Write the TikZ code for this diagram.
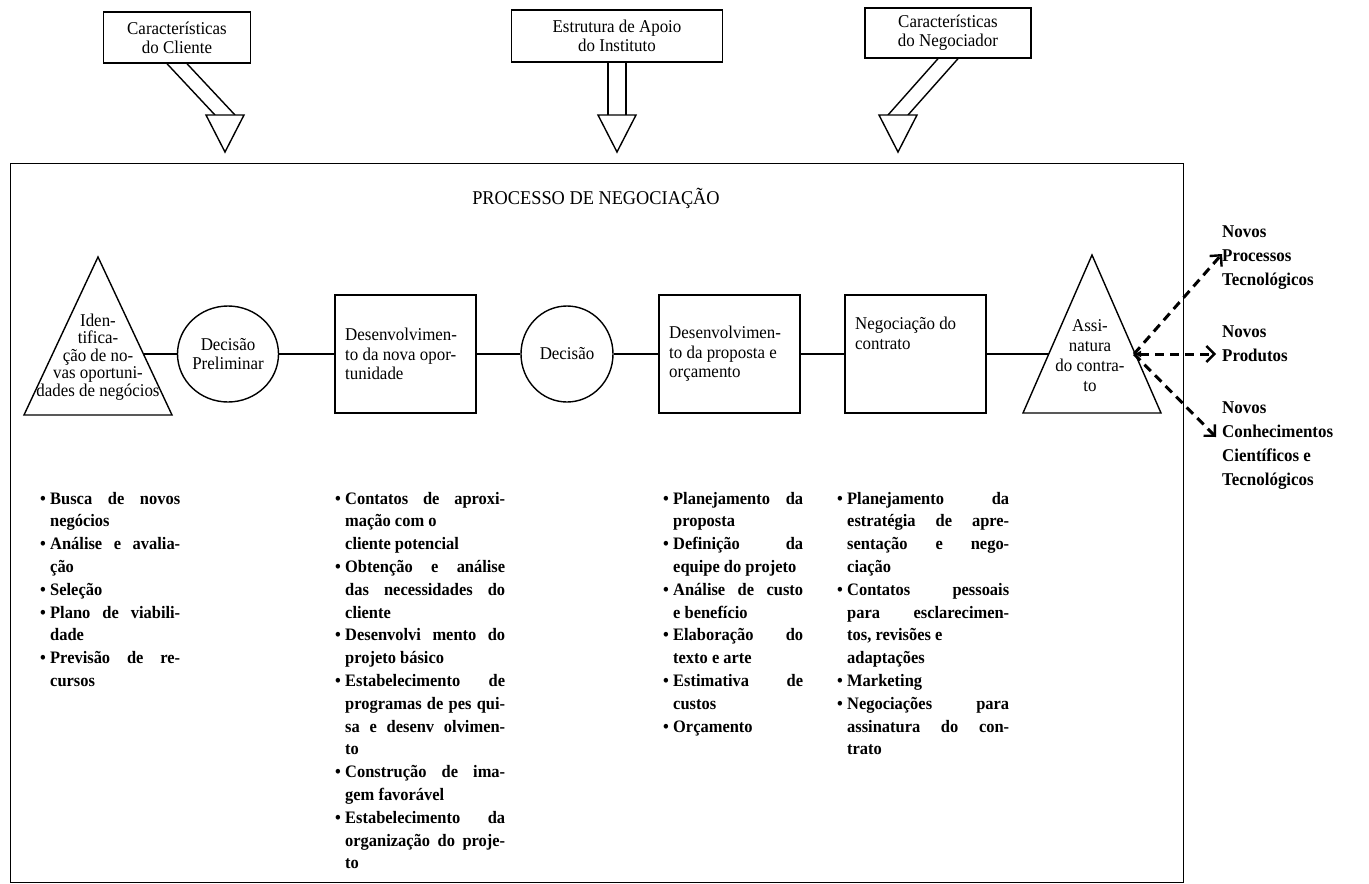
\documentclass[tikz,border=0pt]{standalone}
\usepackage{fontspec}
\setmainfont{Liberation Serif}[FakeStretch=0.94]
\usetikzlibrary{arrows.meta,calc,shapes.geometric}
\newcommand{\lbul}{\makebox[10pt][l]{\textbullet}}
\newcommand{\lind}{\hspace*{10pt}}
\newcommand{\jw}[2]{\makebox[#1][s]{#2}}
\newcommand{\jA}{\jw{140pt}}
\newcommand{\jB}{\jw{170pt}}
\newcommand{\jC}{\jw{140pt}}
\newcommand{\jD}{\jw{172pt}}
\begin{document}
\begin{tikzpicture}[x=1pt,y=-1pt,
  every node/.style={inner sep=0pt},
  lw/.style={line width=1.4pt},
  topbox/.style={draw, line width=1.4pt, align=center, font=\fontsize{18}{19}\selectfont},
  rowbox/.style={draw, line width=1.4pt, minimum width=141pt, minimum height=118pt},
  rowtxt/.style={align=left, font=\fontsize{18}{19.5}\selectfont},
  decis/.style={draw, ellipse, line width=1.4pt, minimum width=92pt, minimum height=96pt, align=center, font=\fontsize{18}{19.5}\selectfont},
  listtxt/.style={align=left, anchor=north west, font=\bfseries\fontsize{17.5}{22.8}\selectfont},
  outtxt/.style={align=left, anchor=north west, font=\bfseries\fontsize{18}{24}\selectfont},
  link/.style={line width=1.4pt},
  dlink/.style={line width=3pt, dash pattern=on 9pt off 6pt, -{Straight Barb[length=8pt,width=16pt,line width=2.4pt]}},
]
\useasboundingbox (0,0) rectangle (1369,884);

% main frame
\node[draw, line width=1.4pt, minimum width=1173pt, minimum height=719pt, anchor=north west] (frame) at (10,163) {};
\node[font=\fontsize{19.5}{21}\selectfont] (title) at (596,198) {PROCESSO DE NEGOCIAÇÃO};

% top boxes
\node[topbox, minimum width=147pt, minimum height=51pt] (cli) at (177,37.5) {Características\\do Cliente};
\node[topbox, minimum width=211pt, minimum height=52pt] (inst) at (617,36) {Estrutura de Apoio\\do Instituto};
\node[topbox, minimum width=166pt, minimum height=50pt] (negr) at (948,33) {Características\\do Negociador};

% input triangles
\coordinate (t1) at (225,115);
\coordinate (t2) at (617,115);
\coordinate (t3) at (898,115);
\draw[lw] ($(cli.south)+(-10,0)$) -- ($(t1)+(-10,0)$);
\draw[lw] ($(cli.south)+(10,0)$) -- ($(t1)+(10,0)$);
\draw[lw] ($(inst.south)+(-9,0)$) -- ($(t2)+(-9,0)$);
\draw[lw] ($(inst.south)+(9,0)$) -- ($(t2)+(9,0)$);
\draw[lw] ($(negr.south)+(-10,0)$) -- ($(t3)+(-10,0)$);
\draw[lw] ($(negr.south)+(10,0)$) -- ($(t3)+(10,0)$);
\foreach \t in {t1,t2,t3}{
  \draw[lw, fill=white] ($(\t)+(-19,0)$) -- ($(\t)+(19,0)$) -- ($(\t)+(0,37)$) -- cycle;
}

% row
\draw[lw] (98,257) -- (24,415) -- (172,415) -- cycle;
\node[align=center, font=\fontsize{18}{17.5}\selectfont] (identt) at (98,357) {Iden-\\tifica-\\ção de no-\\vas oportuni-\\dades de negócios};
\coordinate (identR) at (143,354);

\node[decis] (dp) at (228,354) {Decisão\\Preliminar};
\node[rowbox] (b1) at (405.5,354) {};
\node[rowtxt, anchor=west] (b1t) at (345,354) {Desenvolvimen-\\to da nova opor-\\tunidade};
\node[decis] (dec) at (567,354) {Decisão};
\node[rowbox] (b2) at (729.5,354) {};
\node[rowtxt, anchor=west] (b2t) at (669,354) {Desenvolvimen-\\to da proposta e\\orçamento};
\node[rowbox] (b3) at (915.5,354) {};
\node[rowtxt, anchor=north west] (b3t) at (855,317) {Negociação do\\contrato};

\draw[lw] (1092,255) -- (1023,413) -- (1161,413) -- cycle;
\node[align=center, font=\fontsize{18}{20}\selectfont] (asst) at (1090,356) {Assi-\\natura\\do contra-\\to};
\coordinate (assL) at (1049,354);
\coordinate (dsrc) at (1134,354);

\draw[link] (identR) -- (dp.west);
\draw[link] (dp.east) -- (b1.west);
\draw[link] (b1.east) -- (dec.west);
\draw[link] (dec.east) -- (b2.west);
\draw[link] (b2.east) -- (b3.west);
\draw[link] (b3.east) -- (assL);

% outputs
\node[outtxt] (o1) at (1222,226) {Novos\\Processos\\Tecnológicos};
\node[outtxt] (o2) at (1222,326) {Novos\\Produtos};
\node[outtxt] (o3) at (1222,402) {Novos\\Conhecimentos\\Científicos e\\Tecnológicos};
\coordinate (e1) at (1222,254);
\coordinate (e2) at (1216,354);
\coordinate (e3) at (1216,437);
\draw[dlink] (dsrc) -- (e1);
\draw[dlink, {Latex[length=7pt,width=7pt]}-{Straight Barb[length=8pt,width=16pt,line width=2.4pt]}] (dsrc) -- (e2);
\draw[dlink] (dsrc) -- (e3);

% lists
\node[listtxt] (l1) at (40,488) {\strut\jA{\lbul Busca de novos}\\
\lind negócios\\
\jA{\lbul Análise e avalia-}\\
\lind ção\\
\lbul Seleção\\
\jA{\lbul Plano de viabili-}\\
\lind dade\\
\jA{\lbul Previsão de re-}\\
\lind cursos};

\node[listtxt] (l2) at (335,488) {\strut\jB{\lbul Contatos de aproxi-}\\
\lind mação com o\\
\lind cliente potencial\\
\jB{\lbul Obtenção e análise}\\
\jB{\lind das necessidades do}\\
\lind cliente\\
\jB{\lbul Desenvolvi mento do}\\
\lind projeto básico\\
\jB{\lbul Estabelecimento de}\\
\jB{\lind programas de pes qui-}\\
\jB{\lind sa e desenv olvimen-}\\
\lind to\\
\jB{\lbul Construção de ima-}\\
\lind gem favorável\\
\jB{\lbul Estabelecimento da}\\
\jB{\lind organização do proje-}\\
\lind to};

\node[listtxt] (l3) at (663,488) {\strut\jC{\lbul Planejamento da}\\
\lind proposta\\
\jC{\lbul Definição da}\\
\lind equipe do projeto\\
\jC{\lbul Análise de custo}\\
\lind e benefício\\
\jC{\lbul Elaboração do}\\
\lind texto e arte\\
\jC{\lbul Estimativa de}\\
\lind custos\\
\lbul Orçamento};

\node[listtxt] (l4) at (837,488) {\strut\jD{\lbul Planejamento da}\\
\jD{\lind estratégia de apre-}\\
\jD{\lind sentação e nego-}\\
\lind ciação\\
\jD{\lbul Contatos pessoais}\\
\jD{\lind para esclarecimen-}\\
\lind tos, revisões e\\
\lind adaptações\\
\lbul Marketing\\
\jD{\lbul Negociações para}\\
\jD{\lind assinatura do con-}\\
\lind trato};
\end{tikzpicture}
\end{document}
